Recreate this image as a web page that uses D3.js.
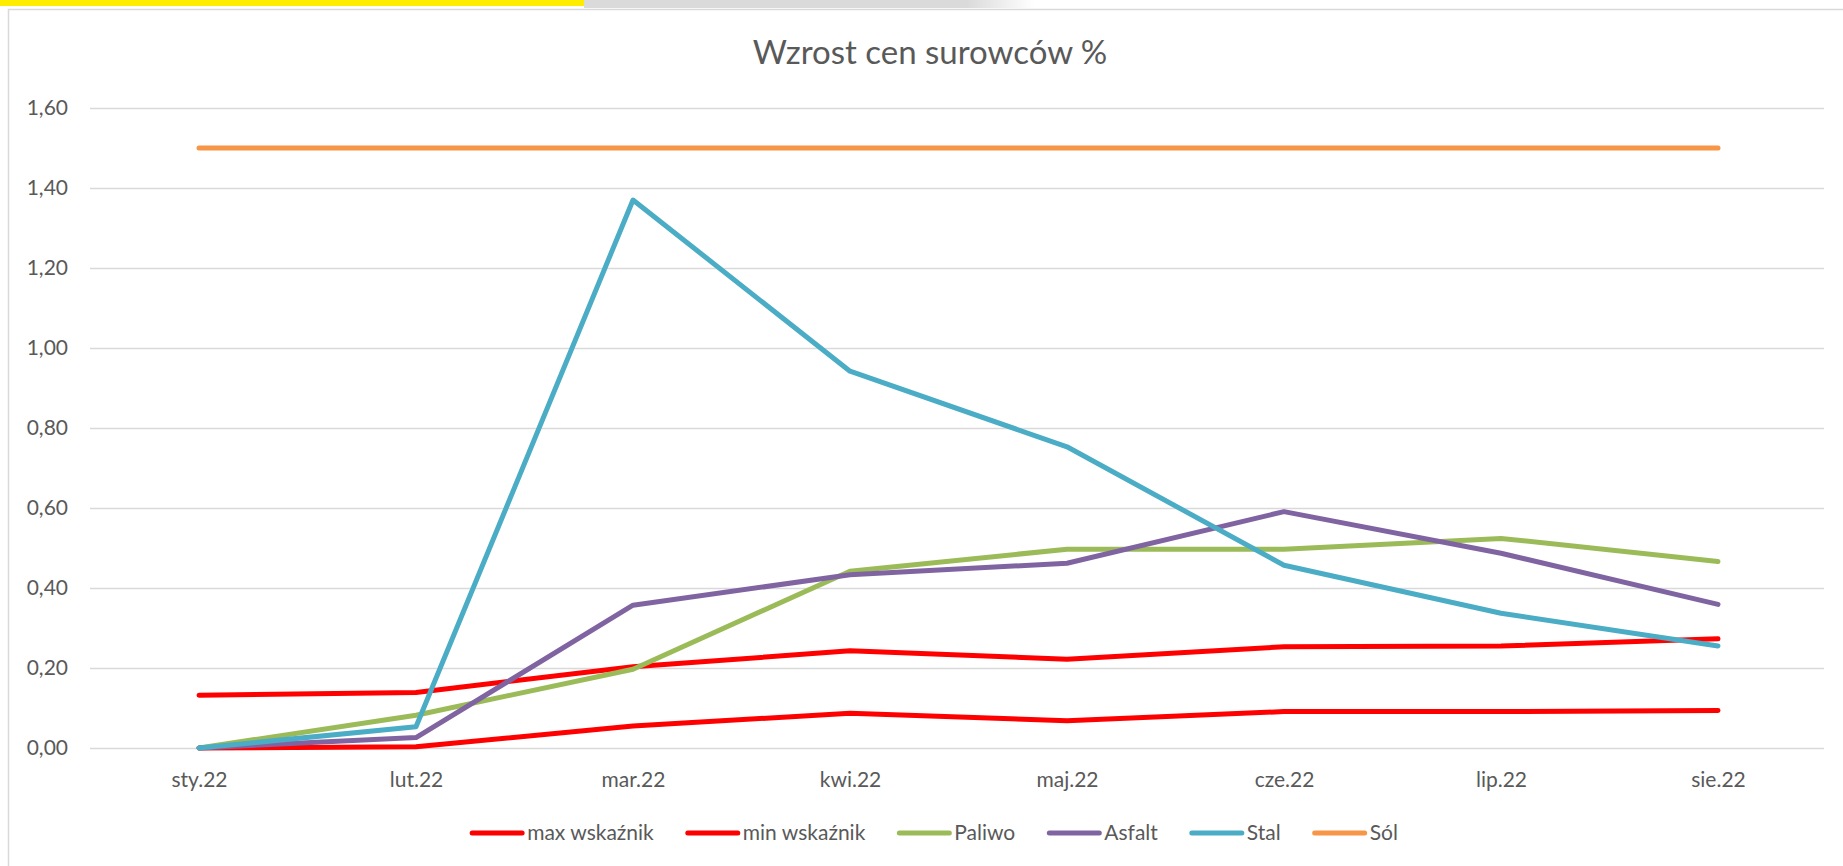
<!DOCTYPE html>
<html>
<head>
<meta charset="utf-8">
<script src="https://cdn.jsdelivr.net/npm/d3@7/dist/d3.min.js"></script>
<style>
  body { margin: 0; background: #fff; }
  svg { display: block; font-family: Lato, "Open Sans", sans-serif; }
</style>
</head>
<body>
<svg id="chart" width="1843" height="866"></svg>
<script>
// months on the x axis
var months = ["sty.22", "lut.22", "mar.22", "kwi.22", "maj.22", "cze.22", "lip.22", "sie.22"];

// series values
var maxWskaznik = [0.132, 0.139, 0.203, 0.243, 0.222, 0.253, 0.255, 0.273];
var minWskaznik = [0.000, 0.003, 0.055, 0.087, 0.068, 0.091, 0.091, 0.094];
var paliwo      = [0.000, 0.082, 0.197, 0.442, 0.497, 0.497, 0.524, 0.466];
var asfalt      = [0.000, 0.026, 0.357, 0.433, 0.462, 0.591, 0.487, 0.359];
var stal        = [0.000, 0.053, 1.370, 0.942, 0.753, 0.457, 0.337, 0.255];
var sol         = [1.50, 1.50, 1.50, 1.50, 1.50, 1.50, 1.50, 1.50];

var yTicks = [0, 0.2, 0.4, 0.6, 0.8, 1.0, 1.2, 1.4, 1.6];

var series = [
    { name: "max wskaźnik", values: maxWskaznik, color: "#FF0000" },
    { name: "min wskaźnik", values: minWskaznik, color: "#FF0000" },
    { name: "Paliwo",       values: paliwo,      color: "#9BBB59" },
    { name: "Asfalt",       values: asfalt,      color: "#8064A2" },
    { name: "Stal",         values: stal,        color: "#4BACC6" },
    { name: "Sól",          values: sol,         color: "#F79646" }
];

var svg = d3.select("#chart");
var textColor = "#595959";
var gridColor = "#D9D9D9";

// polish number format 0,00
var plFormat = d3.formatLocale({ decimal: ",", thousands: " ", grouping: [3], currency: ["", " zł"] }).format(".2f");

// top strip above the chart frame
var grad = svg.append("defs").append("linearGradient").attr("id", "fade");
grad.append("stop").attr("offset", "0%").attr("stop-color", "#DADADA");
grad.append("stop").attr("offset", "85%").attr("stop-color", "#DADADA");
grad.append("stop").attr("offset", "100%").attr("stop-color", "#FFFFFF");
svg.append("rect").attr("x", 584).attr("y", 0).attr("width", 450).attr("height", 8).attr("fill", "url(#fade)");
svg.append("rect").attr("x", 0).attr("y", 0).attr("width", 584).attr("height", 6).attr("fill", "#FFED00");

// chart frame
svg.append("rect")
    .attr("x", 8.5).attr("y", 9.5)
    .attr("width", 1900).attr("height", 900)
    .attr("fill", "none")
    .attr("stroke", gridColor)
    .attr("stroke-width", 1.5);

// scales
var x = d3.scalePoint().domain(months).range([90.5, 1826.5]).padding(0.5);
var y = d3.scaleLinear().domain([0, 1.6]).range([748, 108]);

// gridlines
svg.append("g")
    .attr("transform", "translate(90,0)")
    .call(d3.axisLeft(y).tickValues(yTicks).tickSize(-1734).tickFormat(""))
    .call(function(g) { g.select(".domain").remove(); })
    .selectAll("line")
    .attr("stroke", gridColor)
    .attr("stroke-width", 1.5);

// y labels
svg.append("g")
    .attr("transform", "translate(68,0)")
    .call(d3.axisLeft(y).tickValues(yTicks).tickSize(0).tickPadding(0).tickFormat(plFormat))
    .call(function(g) { g.select(".domain").remove(); })
    .selectAll("text")
    .attr("fill", textColor)
    .style("font-size", "21px")
    .style("font-family", "Lato, sans-serif");

// x labels
svg.append("g")
    .attr("transform", "translate(0,772)")
    .call(d3.axisBottom(x).tickSize(0).tickPadding(0))
    .call(function(g) { g.select(".domain").remove(); })
    .selectAll("text")
    .attr("fill", textColor)
    .style("font-size", "21px")
    .style("font-family", "Lato, sans-serif");

// title
svg.append("text")
    .attr("x", 930).attr("y", 64)
    .attr("text-anchor", "middle")
    .attr("fill", textColor)
    .style("font-size", "33px")
    .text("Wzrost cen surowców %");

// lines
var line = d3.line()
    .x(function(d, i) { return x(months[i]); })
    .y(function(d) { return y(d); });

svg.append("g").selectAll("path")
    .data(series)
    .enter()
    .append("path")
    .attr("d", function(s) { return line(s.values); })
    .attr("fill", "none")
    .attr("stroke", function(s) { return s.color; })
    .attr("stroke-width", 5)
    .attr("stroke-linejoin", "round")
    .attr("stroke-linecap", "round");

// legend, laid out from text widths then centred
var legend = svg.append("g");
var lx = 0;
series.forEach(function(s) {
    var item = legend.append("g").attr("transform", "translate(" + lx + ",0)");
    item.append("line")
        .attr("x1", 2).attr("x2", 52)
        .attr("y1", 0).attr("y2", 0)
        .attr("stroke", s.color)
        .attr("stroke-width", 5)
        .attr("stroke-linecap", "round");
    var t = item.append("text")
        .attr("x", 57).attr("y", 0)
        .attr("dy", "0.35em")
        .attr("fill", textColor)
        .style("font-size", "21px")
        .text(s.name);
    lx += 57 + t.node().getComputedTextLength() + 32;
});
var legendWidth = lx - 32;
legend.attr("transform", "translate(" + (934 - legendWidth / 2) + ",833)");
</script>
</body>
</html>
